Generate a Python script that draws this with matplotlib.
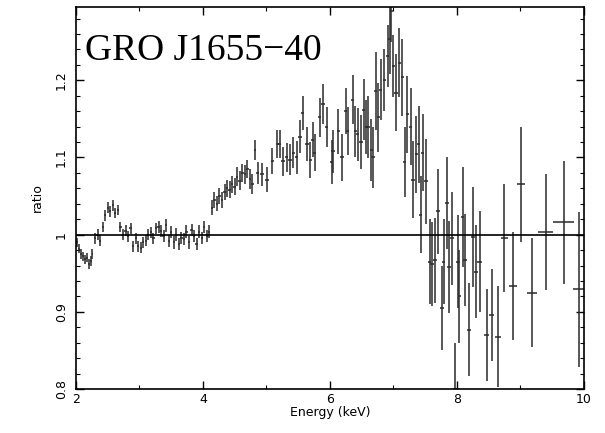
import numpy as np
import matplotlib
matplotlib.use("Agg")
import matplotlib.pyplot as plt
from matplotlib.ticker import MultipleLocator, FuncFormatter

# data: energy (keV), ratio, y error, x half-width
energy = [
    2.02, 2.05, 2.08, 2.11, 2.14, 2.17, 2.20, 2.23, 2.26,
    2.30, 2.34, 2.38, 2.42, 2.46, 2.50, 2.54, 2.58, 2.62, 2.66, 2.70, 2.74, 2.78, 2.82, 2.86, 2.90,
    2.94, 2.98, 3.02, 3.06, 3.10, 3.14, 3.18, 3.22, 3.26, 3.30, 3.34, 3.38, 3.42, 3.46, 3.50,
    3.54, 3.58, 3.62, 3.66, 3.70, 3.74, 3.78, 3.82, 3.86, 3.90, 3.94, 3.98, 4.02, 4.06, 4.10,
    4.14, 4.18, 4.22, 4.26, 4.30, 4.34, 4.38, 4.42, 4.46, 4.50, 4.54, 4.58, 4.62, 4.66, 4.70,
    4.74, 4.78, 4.82, 4.86,
    4.93, 5.01, 5.09, 5.17, 5.21, 5.26, 5.32, 5.37, 5.42, 5.48, 5.53, 5.57, 5.64, 5.69, 5.73,
    5.76, 5.84, 5.89, 5.95, 6.03, 6.05, 6.13, 6.19, 6.25, 6.28, 6.36, 6.40, 6.44,
    6.49, 6.53, 6.57, 6.60, 6.65, 6.68, 6.72, 6.76, 6.80, 6.86, 6.91, 6.94, 6.97, 7.00, 7.04,
    7.09, 7.14, 7.18, 7.22, 7.27, 7.31, 7.36, 7.40, 7.43, 7.46, 7.52, 7.57, 7.61, 7.65, 7.70,
    7.76, 7.79, 7.84, 7.88, 7.92, 7.97, 8.02, 8.04, 8.09, 8.13, 8.19, 8.25, 8.30, 8.36, 8.47,
    8.55, 8.65, 8.75, 8.88, 9.01, 9.18, 9.40, 9.68, 9.92,
]
ratio = [
    0.990, 0.982, 0.975, 0.972, 0.968, 0.970, 0.962, 0.966, 0.975,
    0.995, 1.000, 0.992, 1.010, 1.025, 1.035, 1.030, 1.038, 1.028, 1.032, 1.010, 1.000, 1.005, 0.998, 1.008, 0.985,
    0.995, 0.985, 0.983, 0.990, 0.992, 1.000, 1.003, 0.995, 1.008, 1.010, 1.005, 0.998, 1.012, 0.992, 1.003,
    0.990, 1.000, 0.988, 0.996, 0.994, 1.004, 0.990, 1.006, 0.998, 0.988, 1.004, 0.996, 1.010, 0.998, 1.004,
    1.035, 1.045, 1.040, 1.050, 1.045, 1.055, 1.060, 1.058, 1.065, 1.062, 1.075, 1.070, 1.080, 1.078, 1.085,
    1.072, 1.065, 1.110, 1.080,
    1.078, 1.071, 1.095, 1.117, 1.117, 1.095, 1.100, 1.097, 1.106, 1.100, 1.127, 1.158, 1.117, 1.097, 1.123,
    1.106, 1.152, 1.169, 1.139, 1.094, 1.108, 1.134, 1.100, 1.160, 1.134, 1.175, 1.134, 1.130,
    1.120, 1.162, 1.139, 1.139, 1.110, 1.100, 1.186, 1.152, 1.188, 1.200, 1.231, 1.253, 1.290, 1.218, 1.184,
    1.223, 1.204, 1.094, 1.156, 1.140, 1.071, 1.104, 1.117, 1.026, 1.106, 1.069, 0.965, 0.962, 0.967, 1.030,
    0.905, 0.965, 1.041, 0.958, 0.995, 0.800, 0.965, 0.920, 1.023, 0.967, 0.877, 0.997, 0.952, 0.965, 0.870,
    0.896, 0.868, 0.996, 0.934, 1.065, 0.925, 1.003, 1.016, 0.929,
]
ratio_err = [
    0.006, 0.006, 0.006, 0.006, 0.006, 0.006, 0.006, 0.006, 0.006,
    0.007, 0.007, 0.007, 0.007, 0.007, 0.007, 0.007, 0.007, 0.007, 0.007, 0.007, 0.007, 0.007, 0.007, 0.007, 0.007,
    0.007, 0.007, 0.007, 0.007, 0.007, 0.007, 0.007, 0.007, 0.007, 0.008, 0.008, 0.008, 0.008, 0.008, 0.008,
    0.008, 0.008, 0.008, 0.008, 0.008, 0.008, 0.008, 0.008, 0.008, 0.008, 0.008, 0.008, 0.008, 0.008, 0.008,
    0.010, 0.010, 0.010, 0.010, 0.010, 0.010, 0.011, 0.011, 0.011, 0.011, 0.012, 0.012, 0.012, 0.012, 0.012,
    0.013, 0.013, 0.013, 0.014,
    0.015, 0.016, 0.017, 0.018, 0.018, 0.019, 0.019, 0.020, 0.020, 0.021, 0.021, 0.022, 0.022, 0.023, 0.023,
    0.024, 0.025, 0.026, 0.026, 0.028, 0.028, 0.029, 0.030, 0.030, 0.031, 0.032, 0.033, 0.034,
    0.035, 0.040, 0.035, 0.040, 0.040, 0.040, 0.050, 0.045, 0.040, 0.040, 0.040, 0.045, 0.040, 0.040, 0.050,
    0.045, 0.050, 0.045, 0.050, 0.050, 0.050, 0.050, 0.050, 0.050, 0.050, 0.055, 0.055, 0.055, 0.055, 0.055,
    0.055, 0.055, 0.060, 0.060, 0.060, 0.060, 0.060, 0.060, 0.065, 0.060, 0.060, 0.065, 0.060, 0.065, 0.060,
    0.060, 0.065, 0.070, 0.070, 0.075, 0.070, 0.075, 0.080, 0.100,
]
energy_err = [
    0.015, 0.015, 0.015, 0.015, 0.015, 0.015, 0.015, 0.015, 0.015,
    0.018, 0.018, 0.018, 0.018, 0.018, 0.018, 0.018, 0.018, 0.018, 0.018, 0.018, 0.018, 0.018, 0.018, 0.018, 0.018,
    0.018, 0.018, 0.018, 0.018, 0.018, 0.018, 0.018, 0.018, 0.018, 0.018, 0.018, 0.018, 0.018, 0.018, 0.018,
    0.018, 0.018, 0.018, 0.018, 0.018, 0.018, 0.018, 0.018, 0.018, 0.018, 0.018, 0.018, 0.018, 0.018, 0.018,
    0.02, 0.02, 0.02, 0.02, 0.02, 0.02, 0.02, 0.02, 0.02, 0.02, 0.02, 0.02, 0.02, 0.02, 0.02,
    0.02, 0.02, 0.02, 0.02,
    0.025, 0.025, 0.025, 0.025, 0.025, 0.025, 0.025, 0.025, 0.025, 0.025, 0.025, 0.025, 0.025, 0.025, 0.025,
    0.025, 0.025, 0.025, 0.025, 0.025, 0.025, 0.025, 0.025, 0.025, 0.025, 0.025, 0.025, 0.025,
    0.025, 0.025, 0.025, 0.025, 0.025, 0.025, 0.025, 0.025, 0.025, 0.025, 0.025, 0.025, 0.025, 0.025, 0.025,
    0.025, 0.025, 0.025, 0.025, 0.025, 0.025, 0.025, 0.025, 0.025, 0.025, 0.03, 0.03, 0.03, 0.03, 0.03,
    0.03, 0.03, 0.03, 0.03, 0.03, 0.03, 0.03, 0.03, 0.03, 0.03, 0.035, 0.035, 0.035, 0.035, 0.04,
    0.04, 0.045, 0.05, 0.06, 0.07, 0.08, 0.12, 0.16, 0.09,
]

fig = plt.figure(figsize=(6.05, 4.33), dpi=100)
ax = fig.add_axes([0.1256, 0.1016, 0.8394, 0.8824])

ax.errorbar(energy, ratio, yerr=ratio_err, xerr=energy_err, fmt="none",
            ecolor="#2a2a2a", elinewidth=1.1, capsize=0)
ax.axhline(1.0, color="black", lw=1.2)

ax.set_xlim(2, 10)
ax.set_ylim(0.8, 1.295)
ax.xaxis.set_major_locator(MultipleLocator(2))
ax.xaxis.set_minor_locator(MultipleLocator(1))
ax.yaxis.set_major_locator(MultipleLocator(0.1))
ax.yaxis.set_minor_locator(MultipleLocator(0.02))
ax.yaxis.set_major_formatter(FuncFormatter(lambda v, p: "%g" % round(v, 2)))

ax.tick_params(which="both", direction="in", top=True, right=True, labelsize=9)
ax.tick_params(which="major", length=6, width=1)
ax.tick_params(which="minor", length=3, width=0.8)
ax.tick_params(axis="x", pad=3)
ax.tick_params(axis="y", pad=6)
for lab in ax.get_yticklabels():
    lab.set_rotation(90)
    lab.set_va("center")
for sp in ax.spines.values():
    sp.set_linewidth(1.2)

ax.set_xlabel("Energy (keV)", fontsize=9, labelpad=0)
ax.set_ylabel("ratio", fontsize=9, labelpad=8)

ax.text(0.018, 0.861, "GRO J1655\u221240", transform=ax.transAxes,
        fontsize=27, family="Liberation Serif", va="baseline", ha="left")

fig.savefig("out.png", dpi=100)
